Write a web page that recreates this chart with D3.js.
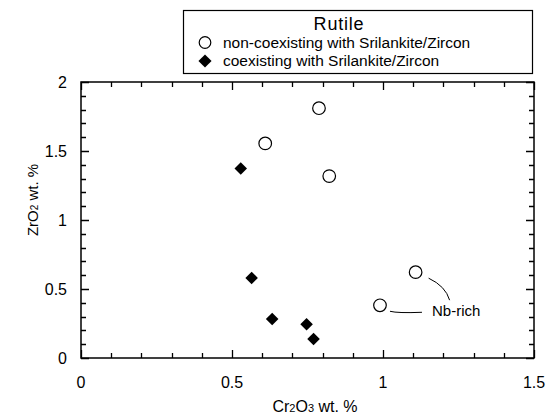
<!DOCTYPE html>
<html>
<head>
<meta charset="utf-8">
<script src="https://cdn.jsdelivr.net/npm/d3@7"></script>
<style>
  body { margin: 0; background: #fff; }
  text { font-family: "Liberation Sans", Arial, Helvetica, sans-serif; fill: #000; }
</style>
</head>
<body>
<div id="chart"></div>
<script>
// Cr2O3 / ZrO2 wt. %
var openX = [0.788, 0.61, 0.822, 1.108, 0.99];
var openY = [1.81, 1.555, 1.318, 0.622, 0.382];
var filledX = [0.529, 0.565, 0.633, 0.747, 0.77];
var filledY = [1.374, 0.58, 0.283, 0.245, 0.138];
var xTicks = [0, 0.5, 1, 1.5];
var yTicks = [0, 0.5, 1, 1.5, 2];
var legendLabels = ["non-coexisting with Srilankite/Zircon", "coexisting with Srilankite/Zircon"];

var margin = { top: 82, right: 12, bottom: 57, left: 81 },
    width = 546 - margin.left - margin.right,
    height = 415 - margin.top - margin.bottom;

var chartSvg = d3.select("#chart")
    .append("svg")
    .attr("width", 546)
    .attr("height", 415);

var svg = chartSvg.append("g")
    .attr("transform", "translate(" + margin.left + "," + margin.top + ")");

var x = d3.scaleLinear().domain([0, 1.5]).range([0, width]);
var y = d3.scaleLinear().domain([0, 2]).range([height, 0]);

// minor ticks every 0.1, major at the labels
var minorX = d3.range(1, 15).map(function (d) { return d / 10; });
var minorY = d3.range(1, 20).map(function (d) { return d / 10; });

// tick marks on all four sides, pointing in
function tickPath(xv, yv, minorLen, majorLen) {
    var p = "";
    xv.forEach(function (v) {
        var len = xTicks.indexOf(v) >= 0 ? majorLen : minorLen;
        var px = Math.round(x(v)) + 0.5;
        p += "M" + px + "," + height + "V" + (height - len);
        p += "M" + px + ",0V" + len;
    });
    yv.forEach(function (v) {
        var len = yTicks.indexOf(v) >= 0 ? majorLen : minorLen;
        var py = Math.round(y(v)) + 0.5;
        p += "M0," + py + "H" + len;
        p += "M" + width + "," + py + "H" + (width - len);
    });
    return p;
}

svg.append("path")
    .attr("d", tickPath(minorX.concat(xTicks), minorY.concat(yTicks), 5, 8))
    .attr("fill", "none")
    .attr("stroke", "#000")
    .attr("stroke-width", 1.3);

svg.append("rect")
    .attr("width", width)
    .attr("height", height)
    .attr("fill", "none")
    .attr("stroke", "#000")
    .attr("stroke-width", 1.5);

// tick labels
svg.selectAll(".xlab")
    .data(xTicks)
    .enter().append("text")
    .attr("x", function (d) { return x(d); })
    .attr("y", height + 30)
    .attr("text-anchor", "middle")
    .style("font-size", "16px")
    .text(function (d) { return d; });

svg.selectAll(".ylab")
    .data(yTicks)
    .enter().append("text")
    .attr("x", -14)
    .attr("y", function (d) { return y(d) + 6; })
    .attr("text-anchor", "end")
    .style("font-size", "16px")
    .text(function (d) { return d; });

// axis titles
var xt = svg.append("text")
    .attr("x", 234)
    .attr("y", height + 54)
    .attr("text-anchor", "middle")
    .style("font-size", "16px");
xt.append("tspan").text("Cr");
xt.append("tspan").style("font-size", "11px").text("2");
xt.append("tspan").text("O");
xt.append("tspan").style("font-size", "11px").text("3");
xt.append("tspan").text(" wt. %");

var yt = svg.append("text")
    .attr("transform", "translate(-43," + (y(1) - 20) + ") rotate(-90)")
    .attr("text-anchor", "middle")
    .style("font-size", "15px");
yt.append("tspan").text("ZrO");
yt.append("tspan").style("font-size", "10px").text("2");
yt.append("tspan").text(" wt. %");

// annotation
svg.append("path")
    .attr("d", "M" + (x(1.108) + 13) + "," + (y(0.622) + 6) +
        " Q" + (x(1.108) + 30) + "," + (y(0.622) + 14) + " " + (x(1.108) + 34) + "," + (y(0.622) + 28))
    .attr("fill", "none").attr("stroke", "#000").attr("stroke-width", 1);
svg.append("path")
    .attr("d", "M" + (x(0.99) + 10) + "," + (y(0.382) + 6) +
        " Q" + (x(0.99) + 18) + "," + (y(0.382) + 8) + " " + (x(0.99) + 42) + "," + (y(0.382) + 7))
    .attr("fill", "none").attr("stroke", "#000").attr("stroke-width", 1);
svg.append("text")
    .attr("x", x(0.99) + 52)
    .attr("y", y(0.382) + 11)
    .style("font-size", "15px")
    .text("Nb-rich");

// points
var diamond = d3.symbol().type(d3.symbolDiamond2).size(100);

svg.append("g").selectAll("path")
    .data(d3.range(filledX.length))
    .enter().append("path")
    .attr("d", diamond)
    .attr("transform", function (i) { return "translate(" + x(filledX[i]) + "," + y(filledY[i]) + ")"; })
    .attr("fill", "#000");

svg.append("g").selectAll("circle")
    .data(d3.range(openX.length))
    .enter().append("circle")
    .attr("cx", function (i) { return x(openX[i]); })
    .attr("cy", function (i) { return y(openY[i]); })
    .attr("r", 6.3)
    .attr("fill", "#fff")
    .attr("stroke", "#000")
    .attr("stroke-width", 1.2);

// legend (page coords)
var lg = chartSvg.append("g");
lg.append("rect")
    .attr("x", 183.5).attr("y", 10.5)
    .attr("width", 349).attr("height", 63)
    .attr("fill", "#fff").attr("stroke", "#000").attr("stroke-width", 1.2);
lg.append("text")
    .attr("x", 339).attr("y", 30)
    .attr("text-anchor", "middle")
    .style("font-size", "18px")
    .style("letter-spacing", "0.8px")
    .text("Rutile");
lg.append("circle")
    .attr("cx", 205).attr("cy", 42.5).attr("r", 5.8)
    .attr("fill", "#fff").attr("stroke", "#000").attr("stroke-width", 1.2);
lg.append("path")
    .attr("d", d3.symbol().type(d3.symbolDiamond2).size(110))
    .attr("transform", "translate(205,61)")
    .attr("fill", "#000");
lg.selectAll(".lt")
    .data(legendLabels)
    .enter().append("text")
    .attr("x", 223)
    .attr("y", function (d, i) { return 48 + i * 17.5; })
    .style("font-size", "15.5px")
    .text(function (d) { return d; });
</script>
</body>
</html>
